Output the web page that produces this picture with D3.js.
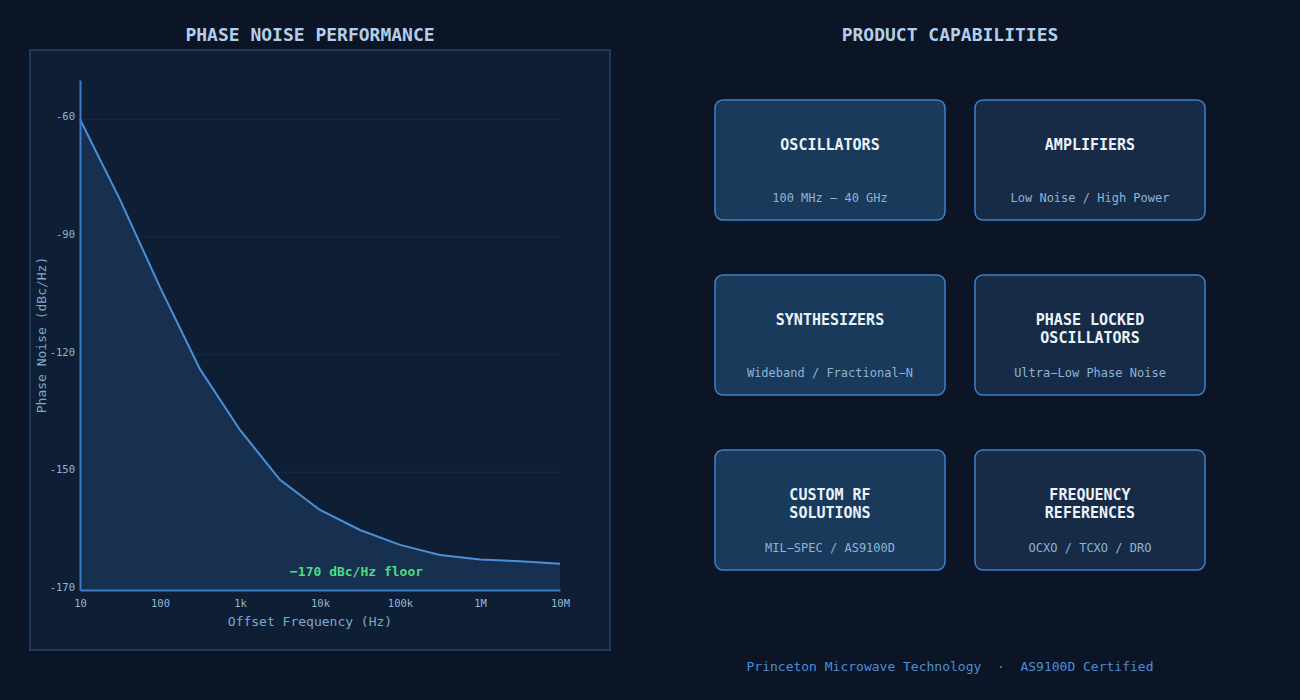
<!DOCTYPE html>
<html>
<head>
<meta charset="utf-8">
<script src="https://cdn.jsdelivr.net/npm/d3@7"></script>
<style>
  html, body { margin: 0; padding: 0; background: #0b1526; }
  svg { display: block; }
  text { font-family: 'DejaVu Sans Mono', monospace; }
</style>
</head>
<body>
<svg id="chart" width="1300" height="700"></svg>
<script>
// ---- Data ----
const offsetFreqs = [10, 31.6, 100, 316, 1e3, 3.16e3, 1e4, 3.16e4, 1e5, 3.16e5, 1e6, 3.16e6, 1e7];
const phaseNoise  = [-60, -80.5, -102.8, -123.7, -139.2, -151.9, -159.6, -164.7, -168.5, -171.1, -172.2, -172.7, -173.3];
const xTickValues = [10, 100, 1e3, 1e4, 1e5, 1e6, 1e7];
const xTickLabels = ["10", "100", "1k", "10k", "100k", "1M", "10M"];
const yTickValues = [-60, -90, -120, -150, -180];
const yTickLabels = ["-60", "-90", "-120", "-150", "-170"];
const floorLabel = "\u2212170 dBc/Hz floor";
const cardTitles = [["OSCILLATORS"], ["AMPLIFIERS"], ["SYNTHESIZERS"], ["PHASE LOCKED", "OSCILLATORS"], ["CUSTOM RF", "SOLUTIONS"], ["FREQUENCY", "REFERENCES"]];
const cardSubtitles = ["100 MHz \u2014 40 GHz", "Low Noise / High Power", "Wideband / Fractional\u2212N", "Ultra\u2212Low Phase Noise", "MIL\u2212SPEC / AS9100D", "OCXO / TCXO / DRO"];
const footerText = "Princeton Microwave Technology  \u00b7  AS9100D Certified";

const svg = d3.select("#chart");

// ---- Left panel ----
svg.append("rect").attr("x", 30).attr("y", 50).attr("width", 580).attr("height", 600)
  .attr("fill", "#0e1f35").attr("stroke", "#1e3757").attr("stroke-width", 2);

svg.append("text").attr("x", 310).attr("y", 35).attr("dy", "0.35em")
  .attr("text-anchor", "middle").attr("fill", "#b3cfe9")
  .attr("font-size", 18).attr("font-weight", "bold").text("PHASE NOISE PERFORMANCE");

const x = d3.scaleLog().domain([10, 1e7]).range([80, 560]);
const y = d3.scaleLinear().domain([-180, -50]).range([590, 80]);

// gridlines
svg.append("g").selectAll("line").data(yTickValues).join("line")
  .attr("x1", x(10)).attr("x2", x(1e7))
  .attr("y1", d => y(d)).attr("y2", d => y(d))
  .attr("stroke", "#152c48").attr("stroke-width", 1);

const pts = offsetFreqs.map((f, i) => [f, phaseNoise[i]]);
svg.append("path").datum(pts)
  .attr("d", d3.area().x(d => x(d[0])).y0(y(-180)).y1(d => y(d[1])))
  .attr("fill", "#17304f");
svg.append("path").datum(pts)
  .attr("d", d3.line().x(d => x(d[0])).y(d => y(d[1])))
  .attr("fill", "none").attr("stroke", "#4a90d9").attr("stroke-width", 2);

const xAxis = svg.append("g").attr("transform", `translate(0,${y(-180)})`)
  .call(d3.axisBottom(x).tickValues(xTickValues).tickSize(0).tickPadding(10)
    .tickFormat((d, i) => xTickLabels[i]));
const yAxis = svg.append("g").attr("transform", `translate(${x(10)},0)`)
  .call(d3.axisLeft(y).tickValues(yTickValues).tickSize(0).tickPadding(5)
    .tickFormat((d, i) => yTickLabels[i]));
[xAxis, yAxis].forEach(g => {
  g.select(".domain").attr("stroke", "#3b7bc8").attr("stroke-width", 2);
  g.selectAll("text").attr("fill", "#8fb6da").attr("font-size", 10.5)
    .attr("font-family", "'DejaVu Sans Mono', monospace");
});
yAxis.selectAll("text").attr("dy", "0.05em");

svg.append("text").attr("x", 310).attr("y", 621).attr("dy", "0.35em")
  .attr("text-anchor", "middle").attr("fill", "#7fa9cf").attr("font-size", 13)
  .text("Offset Frequency (Hz)");
svg.append("text").attr("transform", "translate(41,335) rotate(-90)").attr("dy", "0.35em")
  .attr("text-anchor", "middle").attr("fill", "#7fa9cf").attr("font-size", 13)
  .text("Phase Noise (dBc/Hz)");

svg.append("text").attr("x", 290).attr("y", 571).attr("dy", "0.35em")
  .attr("fill", "#4ade80").attr("font-size", 13).attr("font-weight", "bold").text(floorLabel);

// ---- Right: capabilities ----
svg.append("text").attr("x", 950).attr("y", 35).attr("dy", "0.35em")
  .attr("text-anchor", "middle").attr("fill", "#b3cfe9")
  .attr("font-size", 18).attr("font-weight", "bold").text("PRODUCT CAPABILITIES");

const cardW = 230, cardH = 120;
const cards = svg.append("g").selectAll("g").data(cardTitles).join("g")
  .attr("transform", (d, i) => `translate(${715 + (i % 2) * 260},${100 + Math.floor(i / 2) * 175})`);
cards.append("rect").attr("width", cardW).attr("height", cardH).attr("rx", 8).attr("ry", 8)
  .attr("fill", (d, i) => i % 2 === 0 ? "#1a3a5c" : "#172b47")
  .attr("stroke", "#3f80cc").attr("stroke-width", 1.5);
cards.each(function(lines, i) {
  const g = d3.select(this);
  lines.forEach((t, k) => {
    g.append("text").attr("x", cardW / 2).attr("y", 45 + k * 18).attr("dy", "0.35em")
      .attr("text-anchor", "middle").attr("fill", "#eaf2fb").attr("font-size", 15)
      .attr("font-weight", "bold").text(t);
  });
  g.append("text").attr("x", cardW / 2).attr("y", 98).attr("dy", "0.35em")
    .attr("text-anchor", "middle").attr("fill", "#8db3d6").attr("font-size", 12)
    .text(cardSubtitles[i]);
});

svg.append("text").attr("x", 950).attr("y", 666).attr("dy", "0.35em")
  .attr("text-anchor", "middle").attr("fill", "#4a8fd6").attr("font-size", 13)
  .style("white-space", "pre")
  .text(footerText);
</script>
</body>
</html>
